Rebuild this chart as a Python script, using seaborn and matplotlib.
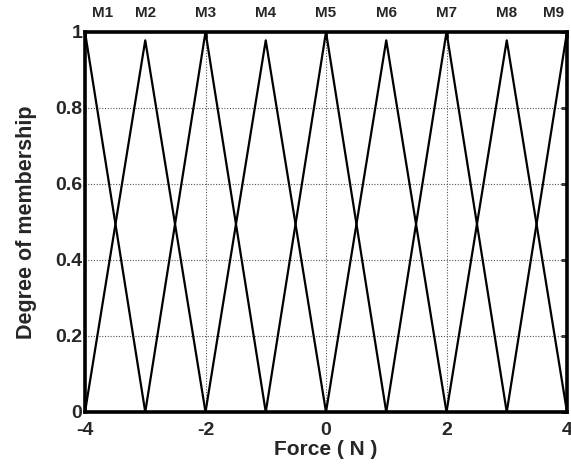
import numpy as np
import pandas as pd
import matplotlib
matplotlib.use("Agg")
import matplotlib.pyplot as plt
import seaborn as sns

# Triangular membership functions for the force input
mf_names = ["M1", "M2", "M3", "M4", "M5", "M6", "M7", "M8", "M9"]
mf_centers = [-4, -3, -2, -1, 0, 1, 2, 3, 4]
mf_half_width = [1, 1, 1, 1, 1, 1, 1, 1, 1]
mf_peaks = [1.0, 0.978, 1.0, 0.978, 1.0, 0.978, 1.0, 0.978, 1.0]

x_ticks = [-4, -2, 0, 2, 4]
x_tick_labels = ["-4", "-2", "0", "2", "4"]
y_ticks = [0, 0.2, 0.4, 0.6, 0.8, 1]
y_tick_labels = ["0", "0.2", "0.4", "0.6", "0.8", "1"]

rows = []
for name, c, w, h in zip(mf_names, mf_centers, mf_half_width, mf_peaks):
    for xv, yv in [(c - w, 0.0), (c, h), (c + w, 0.0)]:
        rows.append({"mf": name, "force": xv, "degree": yv})
df = pd.DataFrame(rows)

sns.set_style("white")
plt.rcParams["font.family"] = ["Liberation Sans", "DejaVu Sans"]
plt.rcParams["font.weight"] = "bold"

fig = plt.figure(figsize=(5.71, 4.67), dpi=100)
ax = fig.add_axes([85 / 571, 55 / 467, 482 / 571, 380 / 467])

for name in mf_names:
    sub = df[df["mf"] == name]
    sns.lineplot(data=sub, x="force", y="degree", ax=ax, color="black",
                 linewidth=1.6, sort=False, estimator=None, zorder=3)

ax.set_xlim(-4, 4)
ax.set_ylim(0, 1)
ax.set_xticks(x_ticks)
ax.set_xticklabels(x_tick_labels)
ax.set_yticks(y_ticks)
ax.set_yticklabels(y_tick_labels)

# dotted grid at interior ticks only
for gx in x_ticks[1:-1]:
    ax.axvline(gx, color="#555555", linestyle=(0, (1, 1.5)), linewidth=0.8, zorder=1)
for gy in y_ticks[1:-1]:
    ax.axhline(gy, color="#555555", linestyle=(0, (1, 1.5)), linewidth=0.8, zorder=1)

ax.tick_params(axis="both", which="major", direction="in", length=4, width=2,
               labelsize=14, top=True, right=True)
ax.tick_params(axis="x", pad=7)
ax.tick_params(axis="y", pad=2)
for lbl in ax.get_xticklabels() + ax.get_yticklabels():
    lbl.set_fontweight("bold")

for sp in ax.spines.values():
    sp.set_visible(True)
    sp.set_linewidth(2.6)
    sp.set_color("black")

ax.set_xlabel("Force ( N )", fontsize=15, fontweight="bold", labelpad=1)
ax.set_ylabel("Degree of membership", fontsize=15.5, fontweight="bold", labelpad=13)

# membership labels above each peak; the outermost ones are nudged inward
label_nudge = {"M1": 13, "M9": -10}
for name, c in zip(mf_names, mf_centers):
    ax.annotate(name, xy=(c, 1.05), xycoords=("data", "axes fraction"),
                xytext=(label_nudge.get(name, 0), 0), textcoords="offset points",
                ha="center", va="center", fontsize=11, fontweight="bold",
                annotation_clip=False)

fig.savefig("out.png", dpi=100, facecolor="white")
